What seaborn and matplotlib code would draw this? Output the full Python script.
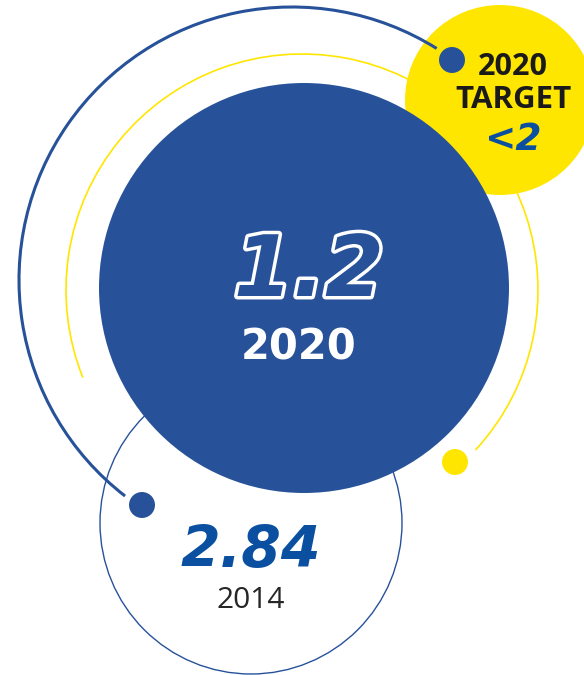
import matplotlib
matplotlib.use("Agg")
import matplotlib.pyplot as plt
import matplotlib.patheffects as pe
from matplotlib.patches import Circle, Arc
import seaborn as sns
import pandas as pd

# ---- data ----
years = ["2014", "2020"]
values = ["2.84", "1.2"]
target_label = ["2020", "TARGET"]
target_value = "<2"

# ---- colours ----
BLUE = "#27529A"
BLUE_TXT = "#0B50A0"
YELLOW = "#FFE600"
DARK = "#262626"

sns.set_theme(style="white")
plt.rcParams["font.family"] = ["DejaVu Sans"]

fig = plt.figure(figsize=(5.84, 6.75), dpi=100)
ax = fig.add_axes([0, 0, 1, 1])

# layout (pixel space, y down)
ax.add_patch(Circle((251, 523), 151, fill=False, ec=BLUE, lw=1.0, zorder=1))
ax.add_patch(Arc((302, 290), 472, 472, theta1=158.2, theta2=402.7,
                 color=YELLOW, lw=1.2, zorder=1))
ax.add_patch(Circle((500, 100), 95, fc=YELLOW, ec="none", zorder=2))
ax.add_patch(Circle((304, 288), 205, fc=BLUE, ec="none", zorder=3))
ax.add_patch(Arc((292, 280), 546, 546, theta1=127.7, theta2=302,
                 color=BLUE, lw=2.2, zorder=4))

dots = pd.DataFrame({"x": [142, 452, 455], "y": [505, 60, 462],
                     "kind": ["a", "b", "c"]})
sns.scatterplot(data=dots, x="x", y="y", hue="kind",
                palette=[BLUE, BLUE, YELLOW], s=350, linewidth=0,
                legend=False, ax=ax, zorder=5)
ax.set_xlim(0, 584)
ax.set_ylim(675, 0)
ax.set_aspect("equal")
ax.axis("off")

# big value 2020
ax.text(309, 296, values[1], fontsize=61, fontweight="bold", fontstyle="oblique",
        color=BLUE, ha="center", va="baseline", zorder=6,
        path_effects=[pe.withStroke(linewidth=5, foreground="white")])
ax.text(298.5, 359, years[1], fontsize=30, fontweight="bold", color="white",
        ha="center", va="baseline", zorder=6)

# target
ax.text(512.5, 75, target_label[0], fontsize=22, fontweight="bold",
        family="Open Sans", color="#1a1a1a", ha="center", va="baseline", zorder=6)
ax.text(513, 108, target_label[1], fontsize=22.5, fontweight="bold",
        family="Open Sans", color="#1a1a1a", ha="center", va="baseline", zorder=6)
ax.text(513, 150, target_value, fontsize=27, fontweight="bold",
        fontstyle="oblique", color=BLUE_TXT, ha="center", va="baseline", zorder=6)

# 2014
ax.text(250.5, 567, values[0], fontsize=41, fontweight="bold",
        fontstyle="oblique", color=BLUE_TXT, ha="center", va="baseline", zorder=6)
ax.text(251, 608, years[0], fontsize=21.5, family="Open Sans", color=DARK,
        ha="center", va="baseline", zorder=6)

fig.savefig("out.png", dpi=100)
